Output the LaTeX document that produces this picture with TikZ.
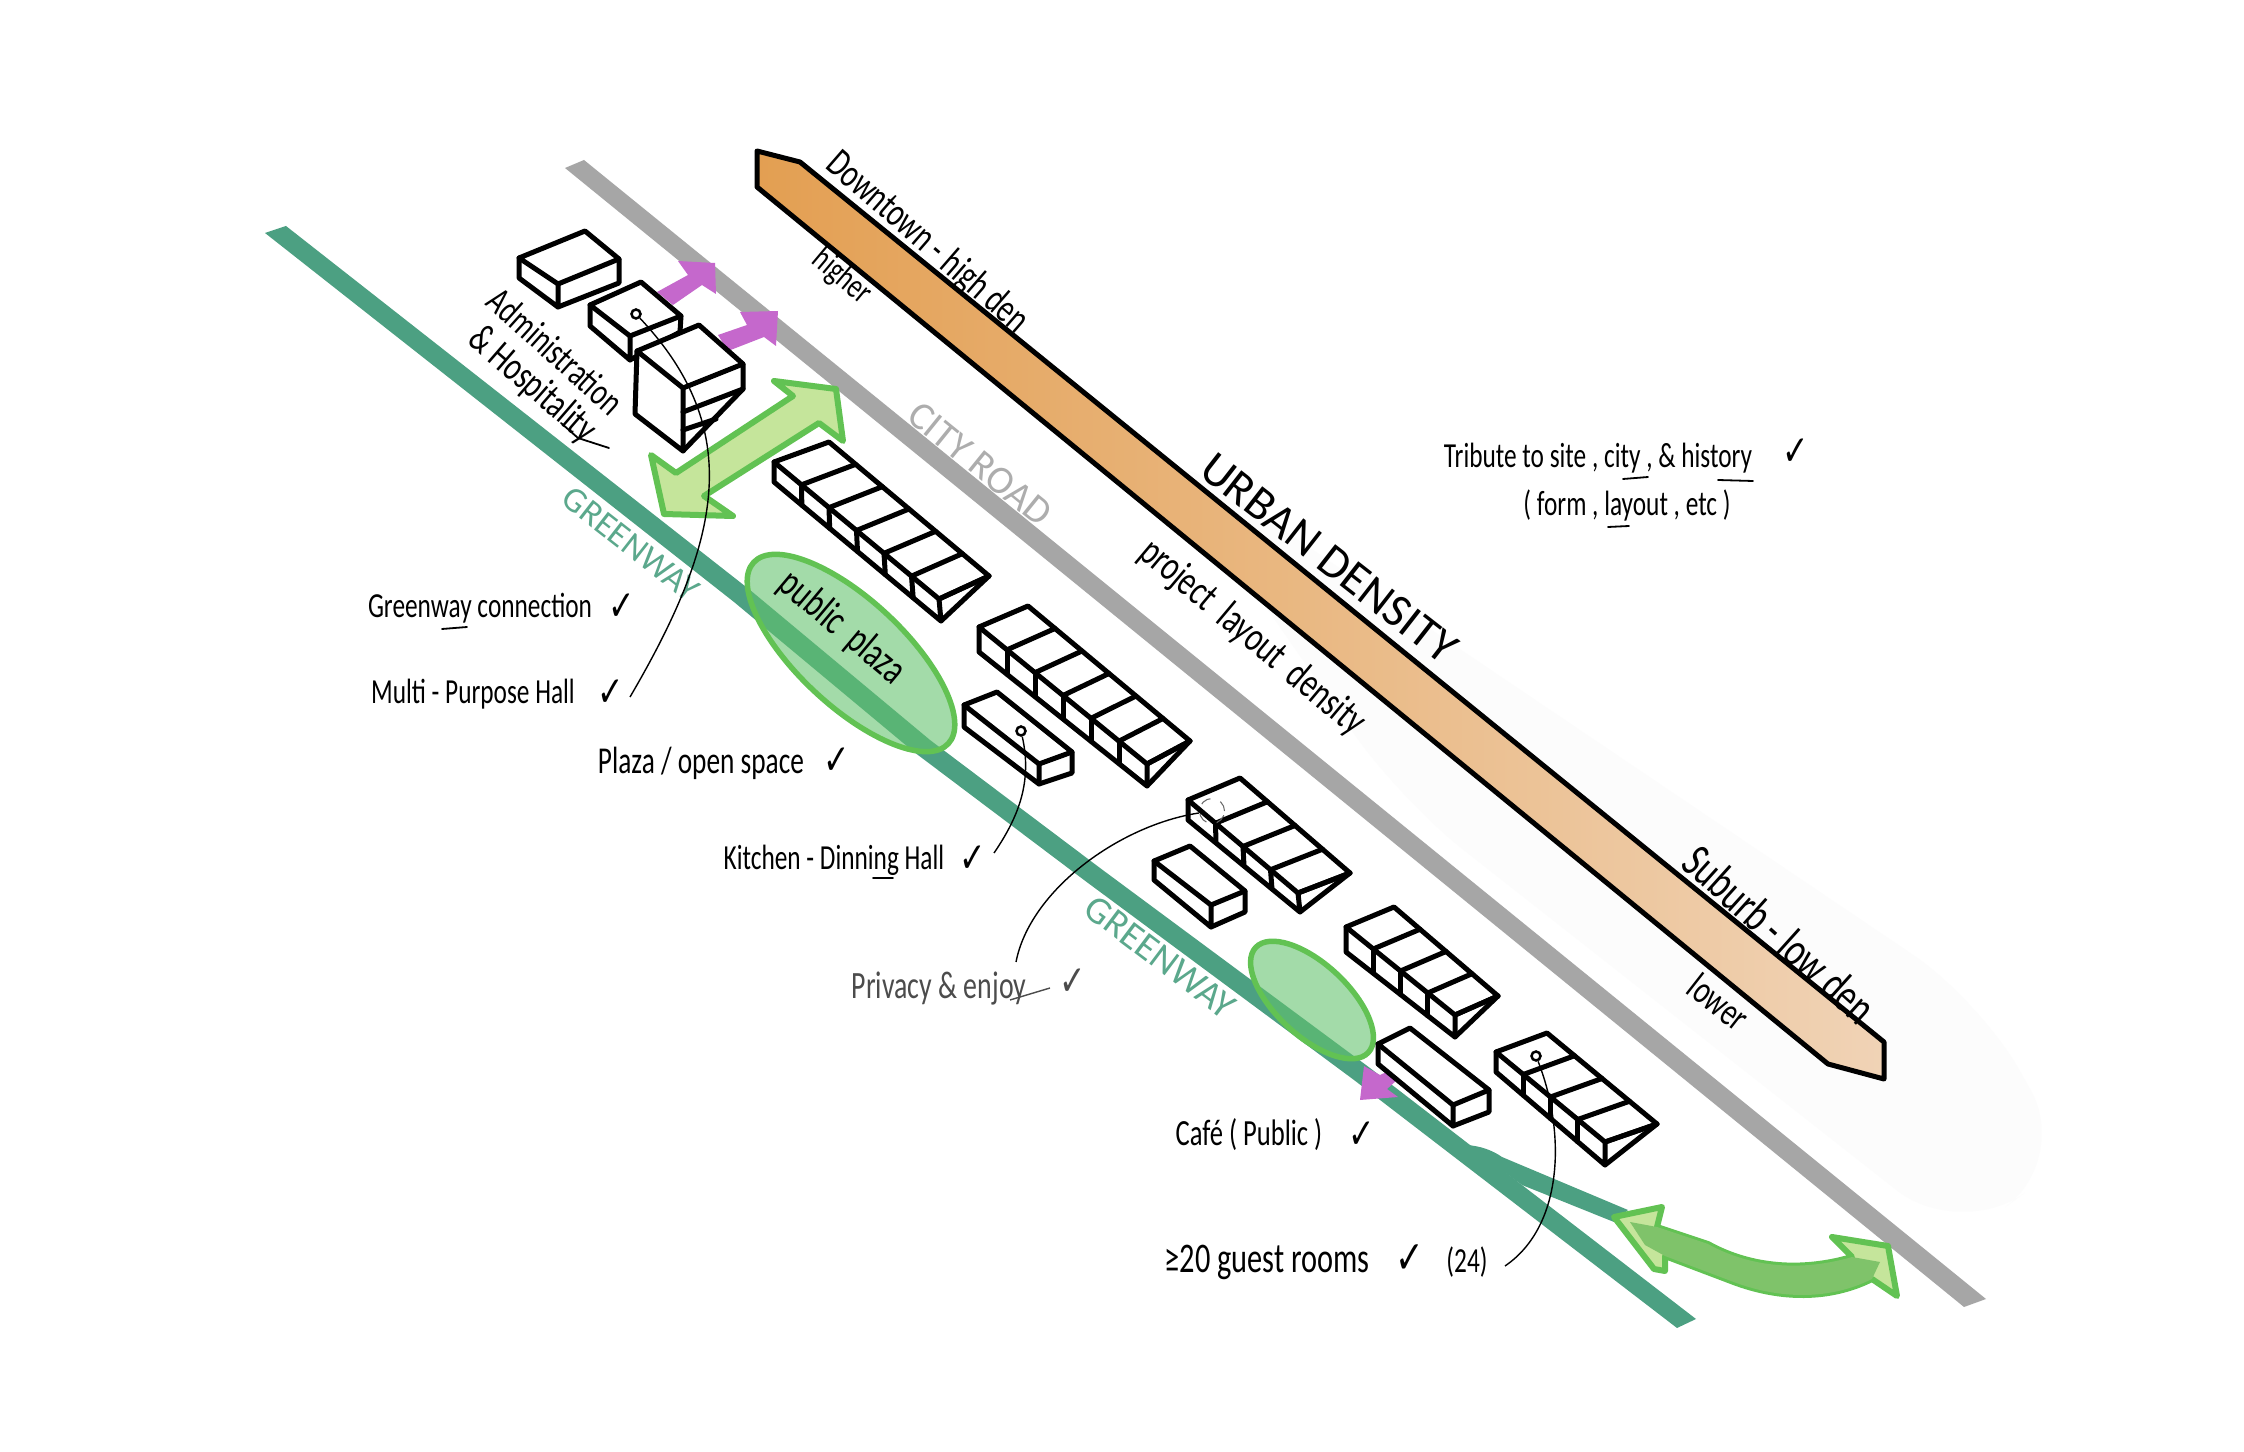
\documentclass[tikz,border=0pt]{standalone}
\usepackage{fontspec}
\setmainfont[FakeStretch=0.72]{Carlito}
\newfontfamily\capsfont{Carlito}
\newfontfamily\dejavu[FakeStretch=0.75]{DejaVu Sans}
\usetikzlibrary{calc}
\definecolor{roadgrey}{HTML}{A6A6A6}
\definecolor{wayteal}{HTML}{4CA082}
\definecolor{wayink}{HTML}{5BA88C}
\definecolor{magenta1}{HTML}{C568CC}
\definecolor{leaf}{HTML}{62C253}
\definecolor{leaflight}{HTML}{C5E59B}
\definecolor{leafmid}{HTML}{7FC36A}
\definecolor{orangea}{HTML}{E39F52}
\definecolor{orangeb}{HTML}{F0D3B6}
\tikzset{
  x=0.01cm,y=-0.01cm,
  blockline/.style={draw=black,line width=0.05cm,line join=round,line cap=round},
  thinline/.style={draw=black,line width=0.014cm},
  pentail/.style={draw=black,line width=0.018cm,line cap=round},
  hw/.style={inner sep=0,outer sep=0,font=\fontsize{#1}{#1}\selectfont},
  hwcaps/.style={inner sep=0,outer sep=0,font=\capsfont\fontsize{#1}{#1}\selectfont},
  purplearrow/.style={fill=magenta1},
  plazablob/.style={draw=leaf,line width=0.055cm,fill={rgb,255:red,99;green,194;blue,109},fill opacity=0.59},
  bigarrow/.style={draw=leaf,line width=0.06cm,line join=round,fill=leaflight},
  pin/.style={circle,draw=black,line width=0.025cm,inner sep=0,minimum size=0.09cm},
  tick/.style={inner sep=0,outer sep=0,font=\dejavu\fontsize{#1}{#1}\selectfont},
}
\newcommand{\segbar}[7]{%
  % #1 segments #2 A #3 B #4 C #5 D #6 E(under A) #7 F(under D)
  \fill[white] #2 -- #3 -- #4 -- #7 -- #6 -- cycle;
  \draw[blockline] #2 -- #3 -- #4 -- #5 -- cycle;
  \draw[blockline] #2 -- #6 -- #7 -- #5;
  \draw[blockline] #7 -- #4;
  \foreach \s in {1,...,#1}{
    \pgfmathsetmacro{\f}{\s/#1}
    \draw[blockline] ($#2!\f!#5$) -- ($#3!\f!#4$);
    \ifnum\s<#1
    \draw[blockline] ($#2!\f!#5$) -- ($#6!\f!#7$);
    \fi
  }
}
\newcommand{\plainbox}[7]{%
  % #1 A #2 B #3 C #4 D #5 E #6 F #7 G (under C)
  \fill[white] #1 -- #2 -- #3 -- #7 -- #6 -- #5 -- cycle;
  \draw[blockline] #1 -- #2 -- #3 -- #4 -- cycle;
  \draw[blockline] #1 -- #5 -- #6 -- #4;
  \draw[blockline] #6 -- #7 -- #3;
}
\begin{document}
\begin{tikzpicture}
\useasboundingbox (0,0) rectangle (2244,1452);
\fill[white] (0,0) rectangle (2244,1452);
% faint shadow
\fill[rounded corners=0.8cm,black!1] (1150,440) -- (1980,1000) -- (2070,1160) -- (1960,1240) -- (1400,800) -- cycle;
% road
\fill[roadgrey] (565,168) -- (584,160) -- (1986,1299) -- (1964,1307) -- cycle;
% greenway
\fill[wayteal] (265,233) -- (286,226) -- (750,590) -- (930,740) -- (1100,868) -- (1370,1068) -- (1696,1319) -- (1677,1328) -- (1354,1080) -- (1084,880) -- (914,752) -- (734,602) -- cycle;
\fill[wayteal] (1467,1145) .. controls (1480,1146) and (1492,1150) .. (1502,1157) -- (1628,1210) -- (1614,1222) -- (1522,1185) -- cycle;
% orange band
\shade[left color=orangea,right color=orangeb] (757,151) -- (800,162) -- (1884,1042) -- (1884,1079) -- (1828,1064) -- (757,187) -- cycle;
\draw[blockline] (757,151) -- (800,162) -- (1884,1042) -- (1884,1079) -- (1828,1064) -- (757,187) -- cycle;
% plazas
\path[plazablob] (851,653) ellipse [x radius=133,y radius=53,rotate=-43];
\path[plazablob] (1312,1000) ellipse [x radius=77,y radius=36,rotate=-43];
% purple arrows
\fill[purplearrow] (657,292) -- (688,275) -- (678,261) -- (715,263) -- (716,294) -- (702,285) -- (673,305) -- cycle;
\fill[purplearrow] (718,335) -- (747,325) -- (740,312) -- (778,311) -- (776,346) -- (764,337) -- (728,351) -- cycle;
\fill[purplearrow] (1364,1066) -- (1380,1075) -- (1393,1069) -- (1397,1080) -- (1387,1089) -- (1398,1097) -- (1360,1100) -- cycle;
% green arrows
\path[bigarrow] (836,389) -- (774,381) -- (793,396) -- (676,473) -- (651,455) -- (664,514) -- (733,516) -- (704,496) -- (819,423) -- (843,441) -- cycle;
\path[bigarrow] (1614,1217) -- (1662,1207) -- (1657,1227) -- (1708,1244) .. controls (1740,1262) and (1790,1275) .. (1852,1257) -- (1832,1237) -- (1888,1246) -- (1897,1296) -- (1872,1279) .. controls (1830,1300) and (1780,1300) .. (1731,1281) -- (1665,1256) -- (1665,1271) -- (1654,1269) -- cycle;
\fill[leafmid] (1630,1222) -- (1657,1227) -- (1708,1244) .. controls (1740,1262) and (1790,1275) .. (1852,1257) -- (1880,1262) -- (1872,1279) .. controls (1830,1300) and (1780,1300) .. (1731,1281) -- (1665,1256) -- (1645,1245) -- cycle;
% buildings
\plainbox{(519,258)}{(585,231)}{(619,259)}{(558,284)}{(519,278)}{(558,307)}{(619,283)}
\plainbox{(590,305)}{(641,282)}{(681,316)}{(630,336)}{(590,326)}{(630,360)}{(680,332)}
\node[pin] (hallpin) at (636,314) {};
% tall box
\fill[white] (637,351) -- (699,325) -- (743,364) -- (743,389) -- (683,451) -- (635,414) -- cycle;
\draw[blockline] (637,351) -- (699,325) -- (743,364) -- (683,388) -- cycle;
\draw[blockline] (637,351) -- (635,414) -- (683,451) -- (683,388);
\draw[blockline] (743,364) -- (743,389) -- (683,451);
\draw[blockline] (683,412) -- (743,389);
\draw[blockline] (683,430) -- (716,419);
\segbar{6}{(774,462)}{(829,442)}{(989,576)}{(939,599)}{(774,482)}{(941,621)}
\segbar{6}{(979,627)}{(1028,606)}{(1190,741)}{(1147,764)}{(979,652)}{(1147,786)}
\plainbox{(964,705)}{(997,692)}{(1072,752)}{(1039,764)}{(964,727)}{(1039,784)}{(1072,773)}
\segbar{4}{(1188,800)}{(1240,778)}{(1350,873)}{(1298,893)}{(1188,820)}{(1300,912)}
\plainbox{(1154,861)}{(1190,846)}{(1245,891)}{(1211,905)}{(1154,880)}{(1211,927)}{(1245,912)}
\segbar{4}{(1346,927)}{(1394,907)}{(1498,996)}{(1455,1015)}{(1346,952)}{(1455,1037)}
\plainbox{(1378,1044)}{(1410,1028)}{(1489,1090)}{(1453,1105)}{(1378,1064)}{(1453,1126)}{(1489,1112)}
\segbar{4}{(1496,1052)}{(1547,1033)}{(1657,1124)}{(1605,1142)}{(1496,1072)}{(1605,1165)}
% pins
\node[pin] (kitchenpin) at (1021,731) {};
\node[pin] (roomspin) at (1536,1056) {};
\node[circle,draw=black!60,dashed,line width=0.01cm,inner sep=0,minimum size=0.25cm] (privacypin) at (1212,811) {};
% road & area labels
\node[hwcaps=11.2,rotate=-39,text=black!32] at (980,464) {CITY ROAD};
\node[hwcaps=10,rotate=-38,text=wayink] at (631,544) {GREENWAY};
\node[hwcaps=10.9,rotate=-37,text=wayink] at (1160,957) {GREENWAY};
\node[hw=11.5,rotate=-41] at (927,243) {Downtown - high den};
\node[hw=10,rotate=-40] at (842,277) {higher};
\node[hwcaps=13.4,rotate=-38] at (1329,558) {URBAN DENSITY};
\node[hw=12,rotate=-40] at (1252,638) {project\ \ layout\ \ density};
\node[hw=13.7,rotate=-42] at (1780,934) {Suburb - low den};
\node[hw=11.2,rotate=-38] at (1719,1002) {lower};
\node[hw=12,rotate=-40] at (842,628) {public\ \ plaza};
\node[hw=11,rotate=-42] at (556,351) {Administration};
\node[hw=11.6,rotate=-41] at (532,385) {\& Hospitality};
\draw[pentail] (561,423) -- (578,438) -- (609,448);
% notes
\node[hw=10] at (1598,458) {Tribute to site , city , \& history};
\draw[pentail] (1623,479) -- (1648,477);
\draw[pentail] (1718,480) -- (1753,481);
\node[tick=12] at (1796,452) {✓};
\node[hw=10] at (1627,505) {( form , layout , etc )};
\draw[pentail] (1608,527) -- (1629,526);
\node[hw=10] at (480,608) {Greenway connection};
\draw[pentail] (442,629) -- (467,627);
\node[tick=12] at (622,607) {✓};
\node[hw=10] (hallnote) at (473,694) {Multi - Purpose Hall};
\node[tick=12] at (611,693) {✓};
\node[hw=10.8] at (701,763) {Plaza / open space};
\node[tick=12] at (837,761) {✓};
\node[hw=10] at (834,860) {Kitchen - Dinning Hall};
\draw[pentail] (873,878) -- (893,878);
\node[tick=12] at (973,859) {✓};
\node[hw=11,text=black!70] at (939,989) {Privacy \& enjoy};
\node[tick=12,text=black!70] at (1073,982) {✓};
\draw[thinline,black!70] (1010,1000) -- (1050,988);
\node[hw=10.5] at (1249,1135) {Café ( Public )};
\node[tick=12] at (1362,1135) {✓};
\node[hw=12] at (1267,1262) {≥20 guest rooms};
\node[tick=13] at (1410,1259) {✓};
\node[hw=10] at (1467,1262) {(24)};
% leaders
\coordinate (hallend) at (630,697);
\coordinate (kitchenend) at (994,853);
\coordinate (privacyend) at (1016,962);
\coordinate (roomsend) at (1505,1266);
\draw[thinline] (hallpin) .. controls (745,430) and (722,540) .. (hallend);
\draw[thinline] (kitchenpin) .. controls (1032,780) and (1020,815) .. (kitchenend);
\draw[thinline] (privacyend) .. controls (1030,890) and (1120,825) .. (privacypin);
\draw[thinline] (roomspin) .. controls (1565,1130) and (1565,1225) .. (roomsend);
\end{tikzpicture}
\end{document}
